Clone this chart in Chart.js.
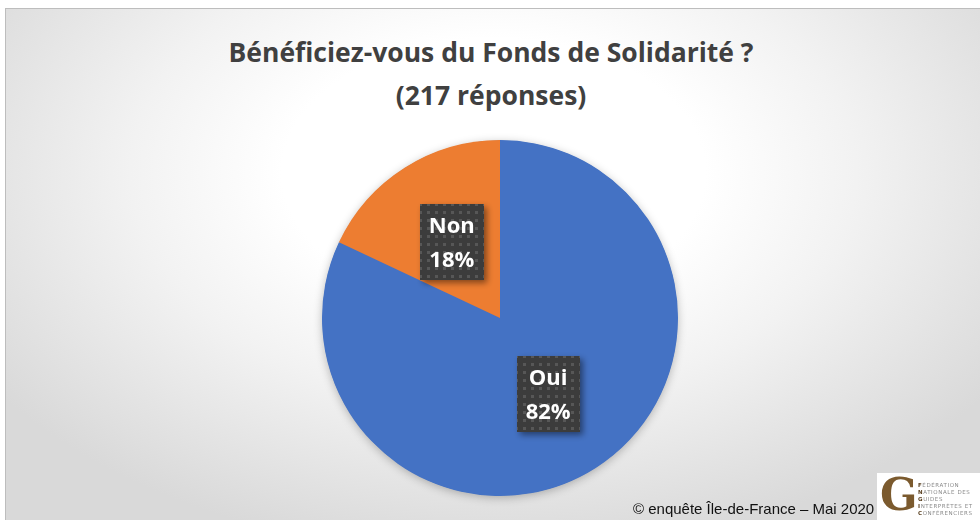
<!DOCTYPE html>
<html>
<head>
<meta charset="utf-8">
<script src="https://cdn.jsdelivr.net/npm/chart.js@4.4.1/dist/chart.umd.min.js"></script>
<style>
  html, body { margin:0; padding:0; background:#fff; }
  body { width:980px; height:520px; position:relative; overflow:hidden; }
  #cadre {
    position:absolute; left:5px; top:8px; width:975px; height:512px;
    border-top:1px solid #bdbdbd; border-left:1px solid #bdbdbd;
    background: radial-gradient(ellipse 62% 75% at 50% 32%, #ffffff 35%, #f2f2f2 60%, #d9d9d9 100%);
  }
  #titre {
    position:absolute; left:0; top:31px; width:982px; text-align:center;
    font-family:"Open Sans", sans-serif; font-weight:700; font-size:26.5px;
    line-height:43px; color:#404040;
  }
  #zone { position:absolute; left:0; top:0; width:980px; height:520px; }
  #source {
    position:absolute; left:633px; top:501px;
    font-family:"Liberation Sans", Arial, sans-serif; font-size:15px; line-height:15px; color:#111;
  }
  #logo {
    position:absolute; left:877px; top:473px; width:103px; height:47px; background:#fff;
  }
  #logo .g {
    position:absolute; left:3px; top:-3px; font-family:"DejaVu Serif", serif; font-weight:700;
    font-size:44px; line-height:50px; color:#7b5a2e;
  }
  #logo .txt {
    position:absolute; left:41px; top:9px; font-family:"DejaVu Sans", sans-serif;
    font-size:5.5px; line-height:7px; letter-spacing:0.6px; color:#8a8a8a; white-space:nowrap;
  }
  #logo .txt b { color:#5a4020; }
</style>
</head>
<body>
<div id="cadre"></div>
<div id="titre">Bénéficiez-vous du Fonds de Solidarité ?<br>(217 réponses)</div>
<div id="zone"><canvas id="graf" width="980" height="520"></canvas></div>
<div id="source">© enquête Île-de-France – Mai 2020</div>
<div id="logo">
  <div class="g">G</div>
  <div class="txt"><b>F</b>ÉDÉRATION<br><b>N</b>ATIONALE DES<br><b>G</b>UIDES<br><b>I</b>NTERPRÈTES ET<br><b>C</b>ONFÉRENCIERS</div>
</div>
<script>
// donnees
var reponses = ['Oui', 'Non']
var pourcentages = [82, 18]
var couleurs = ['#4472c4', '#ed7d31']

function motifPoints(ctx) {
    var c = document.createElement('canvas')
    c.width = 8; c.height = 8
    var p = c.getContext('2d')
    p.fillStyle = '#3c3c3c'
    p.fillRect(0, 0, 8, 8)
    p.fillStyle = '#575757'
    p.fillRect(3, 3, 3, 3)
    return ctx.createPattern(c, 'repeat')
}

// ombre sous le disque
var ombrePie = {
    id: 'ombrePie',
    beforeDatasetsDraw(chart) {
        var arc = chart.getDatasetMeta(0).data[0]
        if (!arc) return
        var ctx = chart.ctx
        ctx.save()
        ctx.shadowColor = 'rgba(0,0,0,0.28)'
        ctx.shadowBlur = 10
        ctx.shadowOffsetX = 0
        ctx.shadowOffsetY = 2
        ctx.fillStyle = couleurs[0]
        ctx.beginPath()
        ctx.arc(arc.x, arc.y, arc.outerRadius - 0.5, 0, Math.PI * 2)
        ctx.fill()
        ctx.restore()
    }
}

// etiquettes dans des cases sombres
var etiquettes = {
    id: 'etiquettes',
    afterDatasetsDraw(chart) {
        var ctx = chart.ctx
        var motif = motifPoints(ctx)
        chart.getDatasetMeta(0).data.forEach((arc, i) => {
            var mid = (arc.startAngle + arc.endAngle) / 2
            var r = arc.outerRadius * 0.505
            var cx = arc.x + Math.cos(mid) * r
            var cy = arc.y + Math.sin(mid) * r
            var lignes = [reponses[i], pourcentages[i] + '%']
            ctx.save()
            ctx.font = 'bold 22px "Open Sans"'
            var w = Math.max(...lignes.map(t => ctx.measureText(t).width)) + 18
            var h = 76
            ctx.shadowColor = 'rgba(0,0,0,0.45)'
            ctx.shadowBlur = 6
            ctx.shadowOffsetX = 3
            ctx.shadowOffsetY = 3
            ctx.fillStyle = motif
            ctx.fillRect(Math.round(cx - w / 2), Math.round(cy - h / 2), Math.round(w), h)
            ctx.shadowColor = 'transparent'
            ctx.fillStyle = '#ffffff'
            ctx.textAlign = 'center'
            ctx.textBaseline = 'middle'
            ctx.fillText(lignes[0], cx, cy - 15)
            ctx.fillText(lignes[1], cx, cy + 19)
            ctx.restore()
        })
    }
}

var graf = document.getElementById('graf').getContext('2d')
var chart = new Chart(graf, {
    type: 'pie',
    data: {
        labels: reponses,
        datasets: [{
            data: pourcentages,
            backgroundColor: couleurs,
            borderWidth: 0,
            hoverOffset: 0
        }]
    },
    options: {
        responsive: false,
        animation: false,
        events: [],
        layout: { padding: { top: 140, bottom: 24, left: 322, right: 302 } },
        plugins: {
            legend: { display: false },
            tooltip: { enabled: false }
        }
    },
    plugins: [ombrePie, etiquettes]
})
</script>
</body>
</html>
